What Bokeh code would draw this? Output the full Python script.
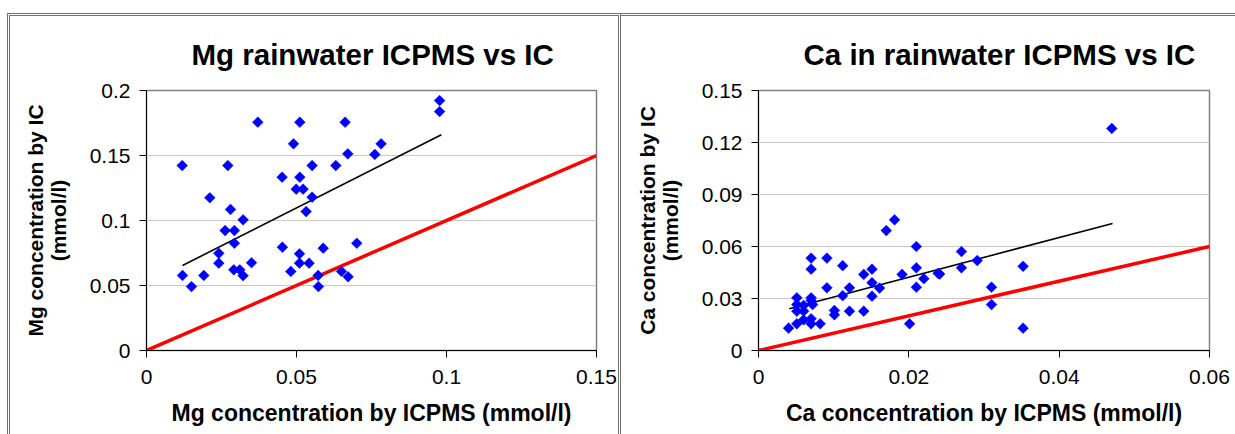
import numpy as np
from bokeh.plotting import figure
from bokeh.models import Range1d, FixedTicker
from bokeh.layouts import row, column
from bokeh.embed import file_html
from bokeh.resources import INLINE

# ---------------- data ----------------
mg_icpms = [0.0119, 0.0271, 0.0371, 0.0511, 0.0662, 0.0490, 0.0782, 0.0671, 0.0761,
            0.0552, 0.0631, 0.0452, 0.0511, 0.0499, 0.0522, 0.0552, 0.0532, 0.0211,
            0.0280, 0.0322, 0.0262, 0.0293, 0.0977, 0.0977, 0.0293, 0.0241, 0.0241,
            0.0120, 0.0150, 0.0191, 0.0291, 0.0311, 0.0322, 0.0350, 0.0453, 0.0510,
            0.0510, 0.0542, 0.0481, 0.0589, 0.0572, 0.0573, 0.0650, 0.0672, 0.0701]
mg_ic = [0.1423, 0.1423, 0.1756, 0.1756, 0.1756, 0.1590, 0.1590, 0.1513, 0.1508,
         0.1423, 0.1423, 0.1333, 0.1333, 0.1241, 0.1241, 0.1179, 0.1069, 0.1175,
         0.1085, 0.1005, 0.0923, 0.0923, 0.1923, 0.1838, 0.0825, 0.0748, 0.0672,
         0.0577, 0.0492, 0.0577, 0.0621, 0.0621, 0.0575, 0.0675, 0.0795, 0.0744,
         0.0672, 0.0672, 0.0608, 0.0787, 0.0577, 0.0492, 0.0608, 0.0567, 0.0825]

ca_icpms = [0.0181, 0.0170, 0.0210, 0.0070, 0.0091, 0.0070, 0.0112, 0.0270, 0.0270,
            0.0291, 0.0352, 0.0210, 0.0191, 0.0151, 0.0140, 0.0239, 0.0241, 0.0220,
            0.0210, 0.0151, 0.0161, 0.0151, 0.0121, 0.0112, 0.0091, 0.0310, 0.0310,
            0.0352, 0.0201, 0.0121, 0.0140, 0.0101, 0.0101, 0.0051, 0.0070, 0.0070,
            0.0051, 0.0060, 0.0072, 0.0051, 0.0060, 0.0060, 0.0070, 0.0070, 0.0082,
            0.0051, 0.0040, 0.0470]
ca_ic = [0.0754, 0.0692, 0.0600, 0.0533, 0.0533, 0.0469, 0.0489, 0.0571, 0.0477,
         0.0519, 0.0486, 0.0477, 0.0439, 0.0469, 0.0439, 0.0445, 0.0441, 0.0414,
         0.0365, 0.0391, 0.0360, 0.0313, 0.0362, 0.0316, 0.0362, 0.0365, 0.0265,
         0.0129, 0.0154, 0.0227, 0.0227, 0.0231, 0.0206, 0.0304, 0.0304, 0.0289,
         0.0265, 0.0260, 0.0265, 0.0227, 0.0227, 0.0177, 0.0183, 0.0154, 0.0154,
         0.0154, 0.0129, 0.1281]

mg_xticks = [0, 0.05, 0.1, 0.15]
mg_xlabels = ["0", "0.05", "0.1", "0.15"]
mg_yticks = [0, 0.05, 0.1, 0.15, 0.2]
mg_ylabels = ["0", "0.05", "0.1", "0.15", "0.2"]
ca_xticks = [0, 0.02, 0.04, 0.06]
ca_xlabels = ["0", "0.02", "0.04", "0.06"]
ca_yticks = [0, 0.03, 0.06, 0.09, 0.12, 0.15]
ca_ylabels = ["0", "0.03", "0.06", "0.09", "0.12", "0.15"]

# fitted trend lines (slope, intercept, x extent)
mg_trend_x = [0.0120, 0.0983]
mg_trend_slope = 1.166
mg_trend_intercept = 0.0514
ca_trend_x = [0.0041, 0.0471]
ca_trend_slope = 1.144
ca_trend_intercept = 0.0194

# 1:1 reference lines (y = x)
mg_one_to_one = [0, 0.15]
ca_one_to_one = [0, 0.06]

FONT = "Liberation Sans"


def panel(title, xlab, ylab, xs, ys, xticks, xlabels, yticks, ylabels,
          trend_x, slope, intercept, one_x, x_end, y_end,
          mb_left, frame_w, mb_right):
    p = figure(frame_width=frame_w, frame_height=260,
               min_border_left=mb_left, min_border_right=mb_right,
               min_border_top=74, min_border_bottom=84,
               x_range=Range1d(0, x_end), y_range=Range1d(0, y_end),
               output_backend="svg", toolbar_location=None,
               background_fill_color="white", border_fill_color="white")
    p.title.text = title
    p.title.text_font = FONT
    p.title.text_font_size = "29.5px"
    p.title.text_line_height = 1.0
    p.title.text_font_style = "bold"
    p.title.text_color = "black"
    p.title.align = "left"
    p.title.vertical_align = "middle"
    p.title.offset = 45
    p.title.standoff = 37

    p.outline_line_color = "#808080"
    p.outline_line_width = 1.5

    p.xgrid.grid_line_color = None
    p.ygrid.grid_line_color = "#c8c8c8"
    p.ygrid.grid_line_width = 1

    for ax, ticks, labels in ((p.xaxis, xticks, xlabels), (p.yaxis, yticks, ylabels)):
        ax.ticker = FixedTicker(ticks=ticks)
        ax.major_label_overrides = {t: l for t, l in zip(ticks, labels)}
        ax.axis_line_color = "black"
        ax.axis_line_width = 1
        ax.major_tick_line_color = "black"
        ax.major_tick_out = 7
        ax.major_tick_in = 0
        ax.minor_tick_line_color = None
        ax.major_label_text_font = FONT
        ax.major_label_text_font_size = "21px"
        ax.major_label_text_color = "black"
        ax.axis_label_text_font = FONT
        ax.axis_label_text_font_style = "bold"
        ax.axis_label_text_color = "black"

    p.xaxis.axis_label = xlab
    p.xaxis.axis_label_text_font_size = "23px"
    p.xaxis.major_label_standoff = 12
    p.xaxis.axis_label_standoff = 13
    p.yaxis.axis_label = ylab
    p.yaxis.axis_label_text_font_size = "21px"
    p.yaxis.axis_label_text_line_height = 1.0
    p.yaxis.major_label_standoff = 9
    p.yaxis.axis_label_standoff = 17
    p.yaxis.major_label_orientation = "horizontal"

    p.line(one_x, one_x, line_color="#ff0000", line_width=3.5)
    ty = [slope * x + intercept for x in trend_x]
    p.line(trend_x, ty, line_color="black", line_width=1.6)
    p.scatter(xs, ys, marker="square", size=7.6, angle=np.pi / 4,
              fill_color="#0000ff", line_color="#0000ff", line_width=0.5)
    return p


border = "3px double #707070"
p1 = panel("Mg rainwater ICPMS vs IC", "Mg concentration by ICPMS (mmol/l)",
           "Mg concentration by IC\n(mmol/l)", mg_icpms, mg_ic,
           mg_xticks, mg_xlabels, mg_yticks, mg_ylabels,
           mg_trend_x, mg_trend_slope, mg_trend_intercept, mg_one_to_one, 0.15, 0.2,
           136, 450, 22)
p2 = panel("Ca in rainwater ICPMS vs IC", "Ca concentration by ICPMS (mmol/l)",
           "Ca concentration by IC\n(mmol/l)", ca_icpms, ca_ic,
           ca_xticks, ca_xlabels, ca_yticks, ca_ylabels,
           ca_trend_x, ca_trend_slope, ca_trend_intercept, ca_one_to_one, 0.06, 0.15,
           137, 451, 26)

left = column(p1, styles={"border-top": border, "border-left": border,
                          "border-right": border}, margin=(13, 0, 0, 7))
right = column(p2, styles={"border-top": border}, margin=(13, 0, 0, 0))
layout = row(left, right, spacing=0)
open("out.html", "w").write(file_html(layout, INLINE))
